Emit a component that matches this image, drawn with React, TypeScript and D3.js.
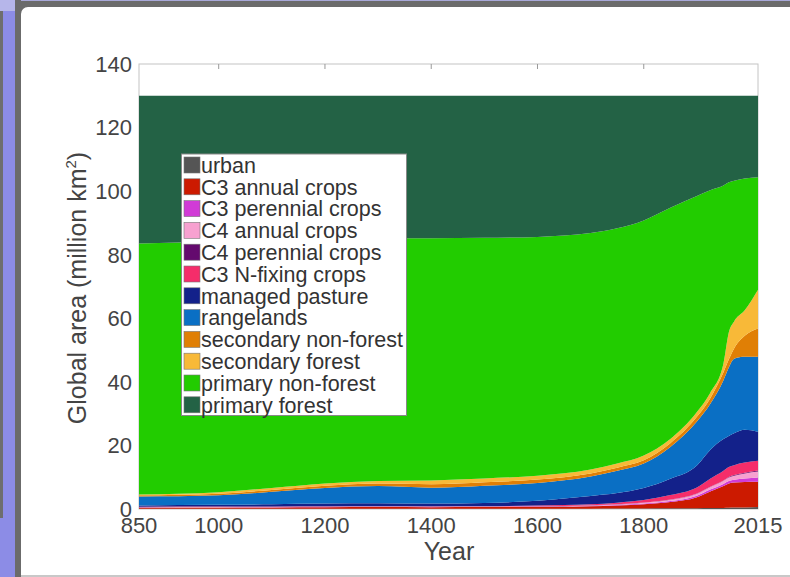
import React from "react";
import * as d3 from "d3";

const years = [850, 1000, 1100, 1200, 1300, 1400, 1500, 1600, 1700, 1750, 1800, 1850, 1900, 1925, 1950, 1960, 1970, 1990, 2015];

const urban = [0.05, 0.05, 0.05, 0.06, 0.06, 0.06, 0.07, 0.08, 0.1, 0.12, 0.15, 0.2, 0.25, 0.3, 0.35, 0.4, 0.45, 0.5, 0.6];
const c3Annual = [0.35, 0.4, 0.45, 0.49, 0.54, 0.49, 0.53, 0.57, 0.75, 0.98, 1.35, 2.0, 3.45, 5.2, 6.85, 7.6, 7.85, 8.0, 8.0];
const c3Perennial = [0.05, 0.05, 0.05, 0.05, 0.05, 0.05, 0.05, 0.05, 0.1, 0.15, 0.2, 0.3, 0.5, 0.6, 0.7, 0.8, 0.9, 1.1, 1.3];
const c4Annual = [0.1, 0.1, 0.1, 0.1, 0.1, 0.1, 0.1, 0.1, 0.15, 0.2, 0.3, 0.4, 0.6, 0.8, 1.0, 1.1, 1.3, 1.6, 1.9];
const c4Perennial = [0.05, 0.05, 0.05, 0.05, 0.05, 0.05, 0.05, 0.05, 0.05, 0.05, 0.05, 0.1, 0.1, 0.1, 0.1, 0.2, 0.2, 0.2, 0.3];
const c3NFixing = [0.1, 0.1, 0.1, 0.1, 0.1, 0.1, 0.1, 0.25, 0.35, 0.5, 0.75, 1.4, 1.9, 2.5, 3.0, 3.1, 3.1, 3.2, 3.1];
const managedPasture = [0.4, 0.55, 0.7, 0.85, 0.9, 0.85, 1.0, 1.5, 2.6, 3.0, 3.8, 5.1, 6.9, 9.1, 10.0, 9.8, 10.0, 10.3, 9.1];
const rangelands = [2.8, 3.0, 3.9, 4.9, 5.4, 5.0, 5.4, 5.6, 6.1, 7.0, 7.7, 10.0, 13.8, 14.4, 18.5, 21.5, 23.5, 23.0, 23.6];
const secondaryNonForest = [0.4, 0.5, 0.6, 0.7, 0.8, 1.1, 1.1, 1.1, 1.0, 1.0, 1.0, 1.2, 1.5, 1.8, 2.5, 2.5, 3.2, 6.6, 8.9];
const secondaryForest = [0.3, 0.5, 0.6, 0.7, 0.8, 1.2, 1.2, 1.2, 1.2, 1.3, 1.5, 1.3, 1.5, 1.7, 2.8, 8.5, 8.5, 8.0, 12.2];
const primaryNonForest = [78.9, 78.9, 78.1, 77.0, 76.4, 76.2, 75.7, 75.1, 74.4, 74.0, 74.0, 72.8, 68.0, 63.8, 56.0, 47.3, 44.3, 41.5, 35.4];
const primaryForest = [46.5, 45.8, 45.3, 45.0, 44.8, 44.8, 44.7, 44.4, 43.2, 41.7, 39.2, 35.2, 31.5, 29.7, 28.2, 27.2, 26.7, 26.0, 25.6];

const seriesNames = [
  "urban",
  "C3 annual crops",
  "C3 perennial crops",
  "C4 annual crops",
  "C4 perennial crops",
  "C3 N-fixing crops",
  "managed pasture",
  "rangelands",
  "secondary non-forest",
  "secondary forest",
  "primary non-forest",
  "primary forest",
];
const seriesValues = [
  urban, c3Annual, c3Perennial, c4Annual, c4Perennial, c3NFixing,
  managedPasture, rangelands, secondaryNonForest, secondaryForest,
  primaryNonForest, primaryForest,
];
const seriesColors = [
  "#555555", "#cc1a00", "#d13bd6", "#f7a1d0", "#640a6e", "#f52d6a",
  "#13218a", "#0a6fc4", "#e07f05", "#f8b938", "#22cc00", "#236245",
];

const xTicks = [850, 1000, 1200, 1400, 1600, 1800, 2015];
const yTicks = [0, 20, 40, 60, 80, 100, 120, 140];

const W = 790;
const H = 577;
const FONT = "'Liberation Sans', Arial, Helvetica, sans-serif";

export default function App() {
  const x = d3.scaleLinear().domain([850, 2015]).range([139, 758]);
  const y = d3.scaleLinear().domain([0, 140]).range([509, 64]);

  const rows = years.map((yr, i) => {
    const r: any = { year: yr };
    seriesNames.forEach((n, k) => (r[n] = seriesValues[k][i]));
    return r;
  });
  const stacked = d3.stack().keys(seriesNames)(rows as any);
  const area = d3
    .area<any>()
    .x((d) => x(d.data.year))
    .y0((d) => y(d[0]))
    .y1((d) => y(d[1]))
    .curve(d3.curveMonotoneX);

  const legX = 181.5;
  const legY = 154;
  const rowH = 21.8;

  return (
    <svg
      width={W}
      height={H}
      style={{ position: "absolute", left: 0, top: 0, background: "#fff" }}
      fontFamily={FONT}
    >
      {/* outer frame */}
      <rect x={0} y={0} width={W} height={H} fill="#fff" />
      <rect x={0} y={0} width={15} height={H} fill="#8c8ce6" />
      <rect x={0} y={0} width={15} height={11} fill="#b6b6ea" />
      <rect x={0} y={11} width={3} height={507} fill="#6e6e6e" />
      <rect x={15} y={0} width={W - 15} height={7} fill="#6b6b6b" />
      <rect x={15} y={0} width={W - 15} height={1} fill="#a8a8d8" />
      <rect x={15} y={0} width={6} height={H} fill="#6b6b6b" />
      <rect x={21} y={575} width={W - 21} height={2} fill="#c8c8c8" />
      <path d="M21,7 L28,7 A7,7 0 0 0 21,14 Z" fill="#6b6b6b" />

      {/* plot frame */}
      <rect x={139} y={64} width={619} height={445} fill="none" stroke="#c4c4c4" strokeWidth={1} />
      {xTicks.slice(1, -1).map((t) => (
        <line key={"tt" + t} x1={x(t)} x2={x(t)} y1={64} y2={69} stroke="#999" strokeWidth={1} />
      ))}

      {/* stacked areas */}
      {stacked.map((s, k) => (
        <path key={seriesNames[k]} d={area(s as any) || ""} fill={seriesColors[k]} />
      ))}

      {/* y tick labels */}
      {yTicks.map((t) => (
        <text
          key={"y" + t}
          x={132}
          y={y(t)}
          dy="0.36em"
          textAnchor="end"
          fontSize={22}
          fill="#444"
        >
          {t}
        </text>
      ))}
      {/* x tick labels */}
      {xTicks.map((t) => (
        <text key={"x" + t} x={x(t)} y={533} textAnchor="middle" fontSize={22} fill="#444">
          {t}
        </text>
      ))}

      {/* axis titles */}
      <text x={449} y={560} textAnchor="middle" fontSize={25} fill="#444">
        Year
      </text>
      <text
        transform="translate(86,288) rotate(-90)"
        textAnchor="middle"
        fontSize={25}
        fill="#444"
      >
        Global area (million km
        <tspan fontSize={15} dy={-10}>
          2
        </tspan>
        <tspan dy={10}>)</tspan>
      </text>

      {/* legend */}
      <rect x={legX} y={legY} width={225} height={261.5} fill="#fff" stroke="#888" strokeWidth={1} />
      {seriesNames.map((n, i) => {
        const cy = legY + 11 + i * rowH;
        return (
          <g key={"l" + n}>
            <rect x={184} y={cy - 8} width={16} height={16} fill={seriesColors[i]} stroke="#777" strokeWidth={0.6} />
            <text x={201} y={cy} dy="0.36em" fontSize={21.5} fill="#333">
              {n}
            </text>
          </g>
        );
      })}
    </svg>
  );
}
